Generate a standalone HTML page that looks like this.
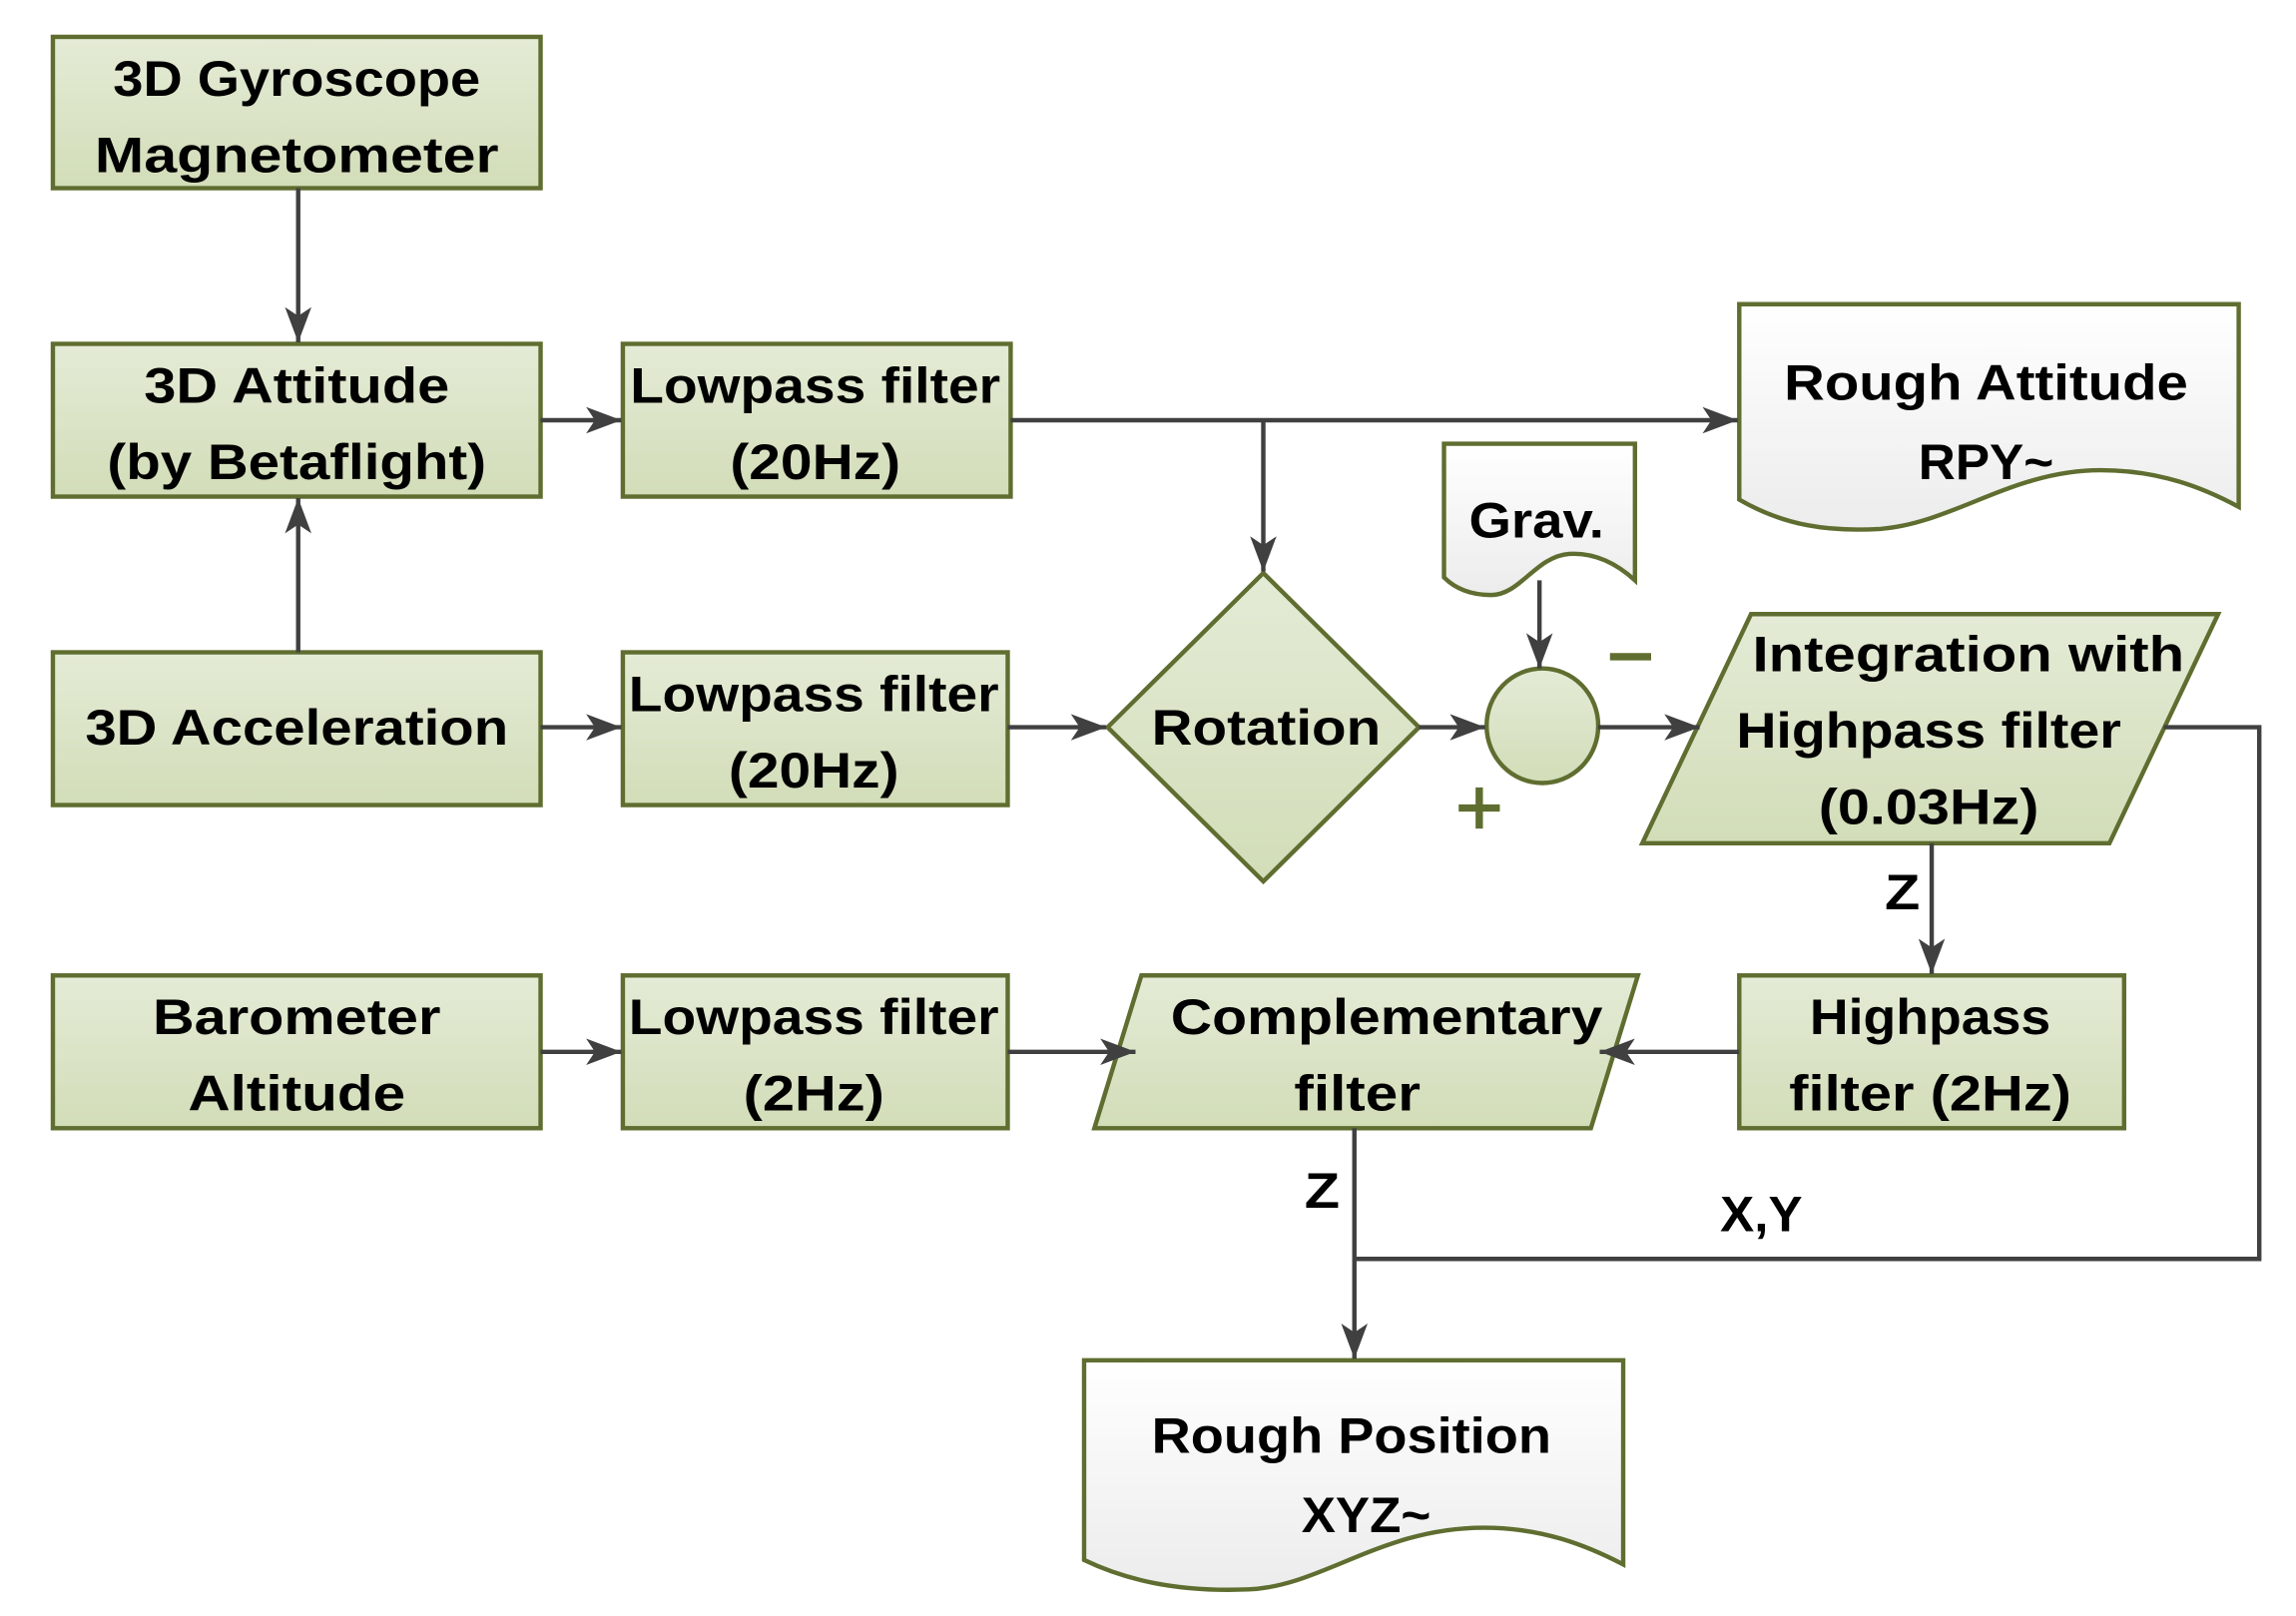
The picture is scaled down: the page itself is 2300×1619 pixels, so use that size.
<!DOCTYPE html>
<html><head><meta charset="utf-8"><style>html,body{margin:0;padding:0;background:#fff}svg{display:block}</style></head><body>
<svg width="2300" height="1619" viewBox="0 0 1563 1100" xmlns="http://www.w3.org/2000/svg">
<defs>
<linearGradient id="g" x1="0" y1="0" x2="0" y2="1"><stop offset="0" stop-color="#e4ebd6"/><stop offset="1" stop-color="#d2ddb8"/></linearGradient>
<linearGradient id="w" x1="0" y1="0" x2="0" y2="1"><stop offset="0" stop-color="#ffffff"/><stop offset="1" stop-color="#ececec"/></linearGradient>
<marker id="a" viewBox="0 0 20 20" refX="20" refY="10" markerWidth="24" markerHeight="24" markerUnits="userSpaceOnUse" orient="auto"><path d="M0,2.5 L20,10 L0,17.5 L5,10 Z" fill="#404040"/></marker>
</defs>
<g fill="url(#g)" stroke="#5f6e30" stroke-width="3">
<rect x="36" y="25" width="332" height="103"/>
<rect x="36" y="234" width="332" height="104"/>
<rect x="36" y="444" width="332" height="104"/>
<rect x="36" y="664" width="332" height="104"/>
<rect x="424" y="234" width="264" height="104"/>
<rect x="424" y="444" width="262" height="104"/>
<rect x="424" y="664" width="262" height="104"/>
<rect x="1184" y="664" width="262" height="104"/>
<path d="M860,390 L966,495 L860,600 L754,495 Z"/>
<ellipse cx="1050" cy="494" rx="38" ry="39"/>
<path d="M1192,418 H1510 L1436,574 H1118 Z"/>
<path d="M777,664 H1115 L1083,768 H745 Z"/>
</g>
<g fill="url(#w)" stroke="#5f6e30" stroke-width="3">
<path d="M1184,207 H1524 V345 C1500,332 1470,320 1430,320 C1370,320 1330,356 1280,360 C1245,362 1215,358 1184,340 Z"/>
<path d="M983,302 H1113 V395 C1100,383 1085,376 1068,377 C1045,379 1035,405 1015,405 C1000,405 990,400 983,393 Z"/>
<path d="M738,926 H1105 V1065 C1080,1052 1050,1040 1010,1040 C940,1040 900,1080 850,1082 C800,1084 765,1075 738,1062 Z"/>
</g>
<g fill="none" stroke="#404040" stroke-width="3">
<path d="M203,128 V233" marker-end="url(#a)"/>
<path d="M203,444 V339" marker-end="url(#a)"/>
<path d="M368,286 H423" marker-end="url(#a)"/>
<path d="M688,286 H1183" marker-end="url(#a)"/>
<path d="M860,286 V389" marker-end="url(#a)"/>
<path d="M368,495 H423" marker-end="url(#a)"/>
<path d="M686,495 H753" marker-end="url(#a)"/>
<path d="M966,495 H1011" marker-end="url(#a)"/>
<path d="M1088,495 H1157" marker-end="url(#a)"/>
<path d="M1048,395 V455" marker-end="url(#a)"/>
<path d="M1473,495 H1538 V857 H922"/>
<path d="M1315,574 V663" marker-end="url(#a)"/>
<path d="M1184,716 H1089" marker-end="url(#a)"/>
<path d="M368,716 H423" marker-end="url(#a)"/>
<path d="M686,716 H773" marker-end="url(#a)"/>
<path d="M922,768 V925" marker-end="url(#a)"/>
</g>
<g font-family="Liberation Sans, sans-serif" font-weight="bold" font-size="34" fill="#000" text-anchor="middle">
<text x="202" y="65" textLength="250" lengthAdjust="spacingAndGlyphs">3D Gyroscope</text>
<text x="202" y="117" textLength="275" lengthAdjust="spacingAndGlyphs">Magnetometer</text>
<text x="202" y="274" textLength="208" lengthAdjust="spacingAndGlyphs">3D Attitude</text>
<text x="202" y="326" textLength="258" lengthAdjust="spacingAndGlyphs">(by Betaflight)</text>
<text x="202" y="507" textLength="288" lengthAdjust="spacingAndGlyphs">3D Acceleration</text>
<text x="202" y="704" textLength="196" lengthAdjust="spacingAndGlyphs">Barometer</text>
<text x="202" y="756" textLength="148" lengthAdjust="spacingAndGlyphs">Altitude</text>
<text x="555" y="274" textLength="252" lengthAdjust="spacingAndGlyphs">Lowpass filter</text>
<text x="555" y="326" textLength="116" lengthAdjust="spacingAndGlyphs">(20Hz)</text>
<text x="554" y="484" textLength="252" lengthAdjust="spacingAndGlyphs">Lowpass filter</text>
<text x="554" y="536" textLength="116" lengthAdjust="spacingAndGlyphs">(20Hz)</text>
<text x="554" y="704" textLength="252" lengthAdjust="spacingAndGlyphs">Lowpass filter</text>
<text x="554" y="756" textLength="96" lengthAdjust="spacingAndGlyphs">(2Hz)</text>
<text x="862" y="507" textLength="156" lengthAdjust="spacingAndGlyphs">Rotation</text>
<text x="1046" y="366" textLength="92" lengthAdjust="spacingAndGlyphs">Grav.</text>
<text x="1352" y="272" textLength="275" lengthAdjust="spacingAndGlyphs">Rough Attitude</text>
<text x="1352" y="326" textLength="92" lengthAdjust="spacingAndGlyphs">RPY~</text>
<text x="1340" y="457" textLength="294" lengthAdjust="spacingAndGlyphs">Integration with</text>
<text x="1313" y="509" textLength="262" lengthAdjust="spacingAndGlyphs">Highpass filter</text>
<text x="1313" y="561" textLength="150" lengthAdjust="spacingAndGlyphs">(0.03Hz)</text>
<text x="1314" y="704" textLength="164" lengthAdjust="spacingAndGlyphs">Highpass</text>
<text x="1314" y="756" textLength="192" lengthAdjust="spacingAndGlyphs">filter (2Hz)</text>
<text x="944" y="704" textLength="294" lengthAdjust="spacingAndGlyphs">Complementary</text>
<text x="924" y="756" textLength="86" lengthAdjust="spacingAndGlyphs">filter</text>
<text x="920" y="989" textLength="272" lengthAdjust="spacingAndGlyphs">Rough Position</text>
<text x="930" y="1043" textLength="88" lengthAdjust="spacingAndGlyphs">XYZ~</text>
<text x="1295" y="619" textLength="24" lengthAdjust="spacingAndGlyphs">Z</text>
<text x="900" y="822" textLength="24" lengthAdjust="spacingAndGlyphs">Z</text>
<text x="1199" y="838" textLength="56" lengthAdjust="spacingAndGlyphs">X,Y</text>
</g>
<g stroke="#5f6e30" stroke-width="5">
<path d="M1096,447 H1124"/>
<path d="M993,550 H1021 M1007,536 V564"/>
</g>
</svg>
</body></html>
